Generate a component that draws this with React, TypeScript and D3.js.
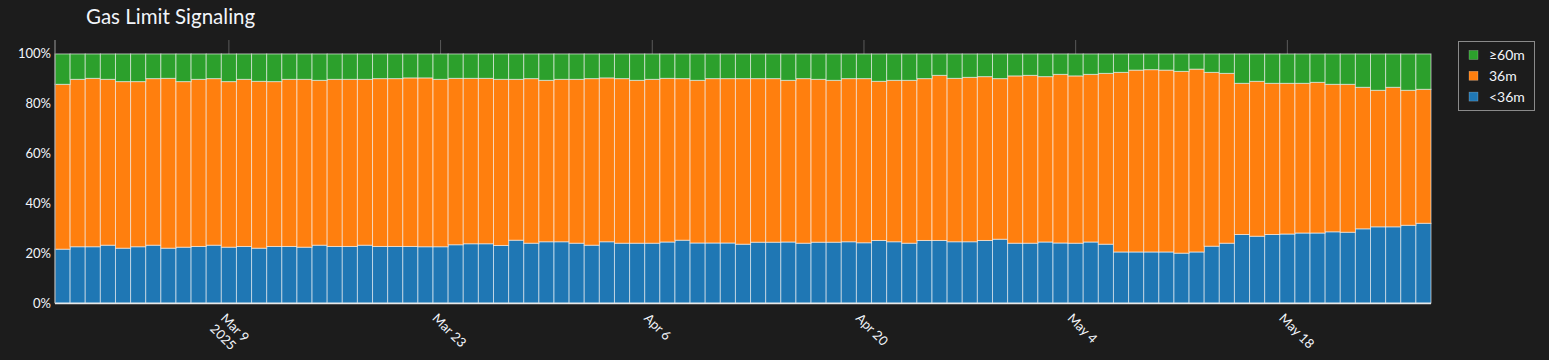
import React from "react";
import * as d3 from "d3";

const startDate = "2025-02-26";
const endDate = "2025-05-27";

const seriesNames = ["<36m", "36m", "≥60m"];
const seriesColors = ["#1f77b4", "#ff7f0e", "#2ca02c"];

const lt36 = [
  21.6, 22.6, 22.6, 23.2, 22.0, 22.6, 23.2, 22.0, 22.4, 22.7,
  23.2, 22.4, 22.7, 22.0, 22.7, 22.7, 22.4, 23.2, 22.7, 22.7,
  23.2, 22.7, 22.7, 22.7, 22.6, 22.6, 23.4, 23.8, 23.8, 23.1,
  25.2, 24.0, 24.6, 24.6, 24.0, 23.2, 24.6, 24.0, 24.0, 24.0,
  24.5, 25.2, 24.1, 24.1, 24.1, 23.6, 24.4, 24.4, 24.5, 24.0,
  24.4, 24.4, 24.6, 24.2, 25.1, 24.6, 24.0, 25.1, 25.1, 24.6,
  24.6, 25.1, 25.6, 24.0, 24.0, 24.5, 24.1, 24.0, 24.5, 23.6,
  20.5, 20.5, 20.5, 20.5, 20.0, 20.5, 22.8, 24.0, 27.5, 26.8,
  27.5, 27.7, 28.1, 28.1, 28.6, 28.4, 29.8, 30.6, 30.6, 31.2,
  32.0,
];

const m36 = [
  66.2, 67.2, 67.6, 66.6, 66.9, 66.3, 66.9, 68.2, 66.5, 67.1,
  66.9, 66.5, 67.1, 67.0, 66.2, 67.1, 67.4, 66.2, 67.1, 67.1,
  66.6, 67.4, 67.4, 67.7, 67.8, 67.2, 66.8, 66.4, 66.4, 66.7,
  64.6, 66.1, 64.8, 65.2, 65.8, 66.9, 65.8, 66.1, 65.4, 65.8,
  65.7, 64.9, 65.3, 66.0, 66.0, 66.5, 65.7, 65.7, 64.9, 66.1,
  65.4, 65.0, 65.5, 65.9, 63.9, 64.8, 65.4, 65.0, 66.3, 65.6,
  66.0, 65.8, 64.5, 67.2, 67.4, 66.4, 67.7, 67.2, 67.3, 68.6,
  72.1, 73.0, 73.2, 73.0, 73.0, 73.4, 69.8, 68.2, 60.7, 62.2,
  60.7, 60.5, 60.1, 60.5, 59.2, 59.4, 56.8, 54.8, 56.0, 54.2,
  53.8,
];

const ge60 = [
  12.2, 10.2, 9.8, 10.2, 11.1, 11.1, 9.9, 9.8, 11.1, 10.2,
  9.9, 11.1, 10.2, 11.0, 11.1, 10.2, 10.2, 10.6, 10.2, 10.2,
  10.2, 9.9, 9.9, 9.6, 9.6, 10.2, 9.8, 9.8, 9.8, 10.2,
  10.2, 9.9, 10.6, 10.2, 10.2, 9.9, 9.6, 9.9, 10.6, 10.2,
  9.8, 9.9, 10.6, 9.9, 9.9, 9.9, 9.9, 9.9, 10.6, 9.9,
  10.2, 10.6, 9.9, 9.9, 11.0, 10.6, 10.6, 9.9, 8.6, 9.8,
  9.4, 9.1, 9.9, 8.8, 8.6, 9.1, 8.2, 8.8, 8.2, 7.8,
  7.4, 6.5, 6.3, 6.5, 7.0, 6.1, 7.4, 7.8, 11.8, 11.0,
  11.8, 11.8, 11.8, 11.4, 12.2, 12.2, 13.4, 14.6, 13.4, 14.6,
  14.2,
];

const xTickDates = ["2025-03-09", "2025-03-23", "2025-04-06", "2025-04-20", "2025-05-04", "2025-05-18"];
const xTickLabels = [["Mar 9", "2025"], ["Mar 23"], ["Apr 6"], ["Apr 20"], ["May 4"], ["May 18"]];
const yTicks = [0, 0.2, 0.4, 0.6, 0.8, 1.0];

const W = 1549;
const H = 360;
const BG = "#1c1c1c";
const FONT = "Lato, 'Open Sans', sans-serif";

export default function App() {
  const left = 55, right = 1431, top = 40, bottom = 303;
  const parse = d3.utcParse("%Y-%m-%d");
  const dates = d3.utcDay.range(parse(startDate)!, d3.utcDay.offset(parse(endDate)!, 1));
  const rows = dates.map((d, i) => ({ date: d, "<36m": lt36[i], "36m": m36[i], "≥60m": ge60[i] }));

  const x = d3.scaleBand<Date>().domain(dates).range([left, right]).padding(0);
  const xt = d3
    .scaleUtc()
    .domain([d3.utcHour.offset(dates[0], -12), d3.utcHour.offset(dates[dates.length - 1], 12)])
    .range([left, right]);
  const y = d3.scaleLinear().domain([0, 1.056]).range([bottom, top]);

  const stack = d3.stack<any>().keys(seriesNames).offset(d3.stackOffsetExpand);
  const layers = stack(rows as any);

  return (
    <div style={{ position: "fixed", left: 0, top: 0, width: W, height: H, background: BG }}>
      <svg width={W} height={H} style={{ display: "block", fontFamily: FONT }}>
        <rect x={0} y={0} width={W} height={H} fill={BG} />
        <text x={86} y={24} fill="#f2f5fa" fontSize={20.5}>
          Gas Limit Signaling
        </text>
        {xTickDates.map((t) => {
          const px = xt(parse(t)!);
          return <line key={t} x1={px} x2={px} y1={top} y2={bottom} stroke="#5a5a5a" strokeWidth={1} />;
        })}
        {layers.map((layer, li) => (
          <g key={layer.key} fill={seriesColors[li]}>
            {layer.map((seg: any, i: number) => (
              <rect
                key={i}
                x={x(seg.data.date)!}
                y={y(seg[1])}
                width={x.bandwidth()}
                height={y(seg[0]) - y(seg[1])}
                stroke="rgba(255,255,255,0.6)"
                strokeWidth={1}
              />
            ))}
          </g>
        ))}
        <line x1={left} x2={left} y1={top} y2={bottom} stroke="#9a9a9a" strokeWidth={1} />
        <line x1={left} x2={right} y1={bottom + 0.5} y2={bottom + 0.5} stroke="#e8e8e8" strokeWidth={1.5} />
        {yTicks.map((t) => (
          <text
            key={t}
            x={51}
            y={y(t)}
            dy="0.35em"
            textAnchor="end"
            fill="#f2f5fa"
            fontSize={13}
          >
            {d3.format(".0%")(t)}
          </text>
        ))}
        {xTickDates.map((t, i) => {
          const px = xt(parse(t)!);
          return (
            <g key={t} transform={`translate(${px - 9},${319}) rotate(45)`}>
              <text fill="#f2f5fa" fontSize={13}>
                {xTickLabels[i].map((s, j) => (
                  <tspan key={j} x={0} dy={j === 0 ? 0 : "1.15em"}>
                    {s}
                  </tspan>
                ))}
              </text>
            </g>
          );
        })}
        <g>
          <rect x={1458.5} y={41.5} width={76} height={69} fill={BG} stroke="#8a8a8a" strokeWidth={1} />
          {[2, 1, 0].map((si, k) => (
            <g key={si} transform={`translate(1469,${55 + k * 20.8})`}>
              <rect x={0} y={-4.5} width={9} height={9} fill={seriesColors[si]} stroke="rgba(255,255,255,0.4)" strokeWidth={0.5} />
              <text x={20} y={0} dy="0.35em" fill="#f2f5fa" fontSize={14}>
                {seriesNames[si]}
              </text>
            </g>
          ))}
        </g>
      </svg>
    </div>
  );
}
